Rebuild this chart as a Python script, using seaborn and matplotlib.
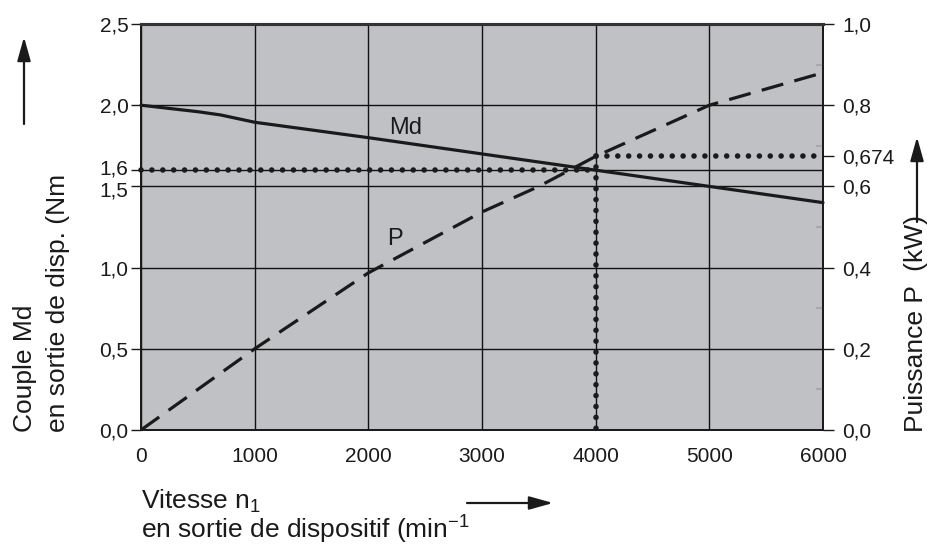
import numpy as np
import pandas as pd
import seaborn as sns
import matplotlib.pyplot as plt
from matplotlib.transforms import ScaledTranslation

# ---------------------------------------------------------
# Data
# ---------------------------------------------------------
# Torque Md (Nm) against output speed n1 (min^-1)
md_speed = [0, 500, 700, 1000, 2000, 3000, 4000, 5000, 6000]
md_torque = [2.0, 1.96, 1.94, 1.895, 1.80, 1.70, 1.60, 1.50, 1.40]

# Power P (kW) against output speed
p_speed = [0, 1000, 2000, 3000, 3500, 4000, 5000, 6000]
p_power = [0.0, 0.2, 0.387, 0.537, 0.60, 0.674, 0.80, 0.88]

# Operating point marked with dotted lines
op_speed = 4000
op_torque = 1.6
op_power = 0.674
speed_max = 6000

x_ticks = [0, 1000, 2000, 3000, 4000, 5000, 6000]
md_ticks = [0.0, 0.5, 1.0, 1.5, op_torque, 2.0, 2.5]
p_ticks = [0.0, 0.2, 0.4, op_power, 0.6, 0.8, 1.0]


def fr(v, nd=1):
    # french decimal comma
    s = f"{v:.{nd}f}"
    return s.replace(".", ",")


# ---------------------------------------------------------
# Style
# ---------------------------------------------------------
sns.set_style("white")
plt.rcParams['font.family'] = ['Liberation Sans', 'DejaVu Sans']
plt.rcParams['mathtext.default'] = 'regular'

ink = '#1a1a1a'
W, H = 928, 547

fig = plt.figure(figsize=(W / 100, H / 100), dpi=100)
ax = fig.add_axes([141 / W, (H - 430) / H, (823 - 141) / W, (430 - 24) / H])
ax.set_facecolor('#c0c1c4')
ax2 = ax.twinx()

# grid (left axis only, right axis grid coincides)
ax.set_axisbelow(True)
ax.grid(True, color='#111111', lw=1.0)

# curves
sns.lineplot(x=md_speed, y=md_torque, ax=ax, color=ink, lw=2.3,
             estimator=None, sort=False)
sns.lineplot(x=p_speed, y=p_power, ax=ax2, color=ink, lw=2.3,
             linestyle=(0, (7, 3.6)), estimator=None, sort=False)

# dotted operating point lines
dot_kw = dict(color=ink, lw=4.0, linestyle=(0, (0.01, 1.95)),
              dash_capstyle='round', estimator=None, sort=False)
sns.lineplot(x=[0, op_speed], y=[op_torque, op_torque], ax=ax, **dot_kw)
sns.lineplot(x=[op_speed, op_speed], y=[op_power, 0], ax=ax2, **dot_kw)
sns.lineplot(x=[op_speed, speed_max], y=[op_power, op_power], ax=ax2, **dot_kw)
for line in ax.lines + ax2.lines:
    line.set_clip_on(False)

# axes limits / ticks
ax.set_xlim(0, speed_max)
ax.set_ylim(0, 2.5)
ax2.set_ylim(0, 1.0)
ax.set_xticks(x_ticks)
ax.set_xticklabels([str(t) for t in x_ticks])
ax.set_yticks(md_ticks)
ax.set_yticklabels([fr(t) for t in md_ticks])
ax2.set_yticks(p_ticks)
ax2.set_yticklabels([fr(t, 3) if t == op_power else fr(t) for t in p_ticks])
ax2.set_yticks([0.1, 0.3, 0.5, 0.7, 0.9], minor=True)

ax.tick_params(axis='x', length=0, pad=12, labelsize=15, colors=ink)
ax.tick_params(axis='y', length=7, width=1.0, pad=2, labelsize=15,
               colors=ink)
ax2.tick_params(axis='y', which='major', length=8, width=1.0, pad=6,
                labelsize=15, colors=ink)
ax2.tick_params(axis='y', which='minor', direction='in', length=5,
                width=1.5, color='#a8a8aa')
ax.set_xlabel('')
ax.set_ylabel('')
ax2.set_ylabel('')

# pull the close 1,6 / 1,5 labels slightly apart
for tick in ax.yaxis.get_major_ticks():
    v = tick.get_loc()
    if abs(v - op_torque) < 1e-9:
        dy = 3
    elif abs(v - 1.5) < 1e-9:
        dy = -3
    else:
        continue
    tick.label1.set_transform(tick.label1.get_transform()
                              + ScaledTranslation(0, dy / 100, fig.dpi_scale_trans))

for a in (ax, ax2):
    for side in ('left', 'right', 'bottom'):
        a.spines[side].set_color(ink)
        a.spines[side].set_linewidth(1.3)
    a.spines['top'].set_color('#333333')
    a.spines['top'].set_linewidth(2.2)

# curve names
ax.text(2330, 1.86, 'Md', fontsize=17, color=ink, ha='center', va='center')
ax2.text(2230, 0.47, 'P', fontsize=17, color=ink, ha='center', va='center')

# axis titles
lab = dict(fontsize=19, color=ink)
fig.text(25 / W, (H - 432) / H, 'Couple Md', rotation=90,
         ha='center', va='bottom', **lab)
fig.text(58 / W, (H - 432) / H, 'en sortie de disp. (Nm', rotation=90,
         ha='center', va='bottom', **lab)
fig.text(916 / W, (H - 432) / H, 'Puissance P  (kW)', rotation=90,
         ha='center', va='bottom', **lab)
fig.text(141 / W, (H - 509) / H, 'Vitesse n$_1$', ha='left',
         va='baseline', **lab)
fig.text(141 / W, (H - 539) / H, 'en sortie de dispositif (min$^{-1}$',
         ha='left', va='baseline', **lab)

arrow = dict(arrowstyle='-|>,head_length=1.0,head_width=0.28', color=ink,
             lw=1.6, mutation_scale=14.4, shrinkA=0, shrinkB=0)


def fig_arrow(x0, y0, x1, y1):
    ax.annotate('', xy=(x1 / W, (H - y1) / H), xytext=(x0 / W, (H - y0) / H),
                xycoords='figure fraction', textcoords='figure fraction',
                arrowprops=arrow, annotation_clip=False)


fig_arrow(24, 124, 24, 37)
fig_arrow(917, 222, 917, 137)
fig_arrow(467, 503, 553, 503)

fig.savefig('out.png', dpi=100)
